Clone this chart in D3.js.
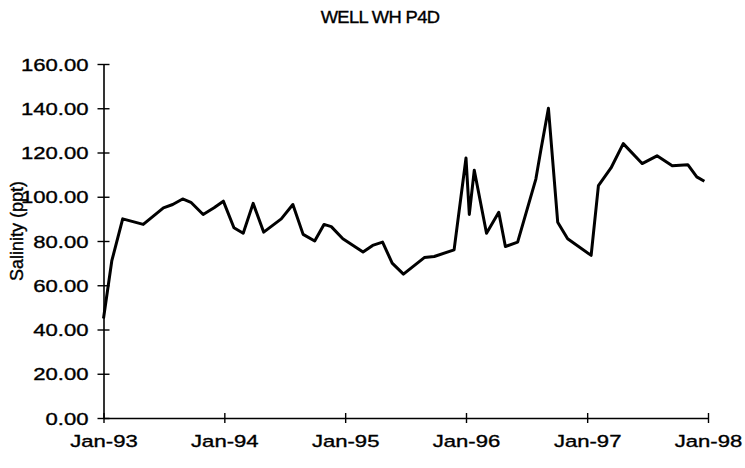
<!DOCTYPE html>
<html>
<head>
<meta charset="utf-8">
<script src="https://cdn.jsdelivr.net/npm/d3@7"></script>
<style>
  html, body { margin: 0; padding: 0; background: #fff; }
  svg { display: block; }
  text { font-family: "Liberation Sans", Arial, sans-serif; fill: #000; stroke: #000; stroke-width: 0.35px; }
</style>
</head>
<body>
<svg id="chart" width="745" height="468"></svg>
<script>
// Sampling dates for well WH P4D
const sampleDates = [
  "1993-01-01", "1993-01-26", "1993-02-28", "1993-05-01", "1993-07-01",
  "1993-07-29", "1993-08-28", "1993-09-22", "1993-10-29", "1993-12-01",
  "1993-12-29", "1994-01-30", "1994-02-27", "1994-03-29", "1994-04-30",
  "1994-06-22", "1994-07-27", "1994-08-27", "1994-10-01", "1994-10-29",
  "1994-11-20", "1994-12-25", "1995-02-24", "1995-03-25", "1995-04-24",
  "1995-05-23", "1995-06-26", "1995-08-28", "1995-09-27", "1995-11-26",
  "1996-01-01", "1996-01-11", "1996-01-26", "1996-03-03", "1996-04-09",
  "1996-04-29", "1996-06-05", "1996-07-30", "1996-08-14", "1996-09-06",
  "1996-10-04", "1996-11-03", "1997-01-13", "1997-02-04", "1997-03-14",
  "1997-04-20", "1997-06-16", "1997-07-31", "1997-09-15", "1997-11-01",
  "1997-11-28", "1997-12-21"
];

// Measured salinity (ppt) at each sampling date
const salinity = [
  45, 71, 90, 87.5, 95,
  96.5, 99, 97.5, 92, 95,
  98, 86, 83.5, 97, 84,
  90, 96.5, 83, 80, 87.5,
  86.5, 81, 75, 78, 79.5,
  70, 65, 72.5, 73, 76,
  117.5, 92, 112, 83.5, 93,
  77.5, 79.5, 108, 121, 140,
  88.5, 81, 73.5, 105, 113,
  124, 115, 118.5, 114, 114.5,
  109, 107
];

// Axis ticks
const yTicks = [0, 20, 40, 60, 80, 100, 120, 140, 160];
const xTickDates = ["1993-01-01", "1994-01-01", "1995-01-01", "1996-01-01", "1997-01-01", "1998-01-01"];

const chartTitle = "WELL WH P4D";
const yTitle = "Salinity (ppt)";

const parse = d3.timeParse("%Y-%m-%d");
const points = sampleDates.map((d, i) => ({ date: parse(d), value: salinity[i] }));

const svg = d3.select("#chart");
const margin = { left: 103.5, right: 37, top: 64, bottom: 50 };
const W = 745, H = 468;

const x = d3.scaleTime()
  .domain([parse(xTickDates[0]), parse(xTickDates[xTickDates.length - 1])])
  .range([margin.left, W - margin.right]);

const y = d3.scaleLinear()
  .domain([0, 160])
  .range([H - margin.bottom, margin.top]);

const sx = 1.3; // horizontal stretch of tick labels

// Y axis
const yAxis = svg.append("g")
  .attr("transform", `translate(${margin.left},0)`)
  .call(d3.axisLeft(y).tickValues(yTicks).tickFormat(d3.format(".2f")).tickSize(6).tickSizeOuter(0));
yAxis.select(".domain").attr("stroke", "#000").attr("stroke-width", 1.6);
yAxis.selectAll(".tick line").attr("x1", 6).attr("x2", -6).attr("stroke", "#000").attr("stroke-width", 1.4);
yAxis.selectAll(".tick text")
  .attr("x", -15 / sx)
  .attr("dy", "0.36em")
  .attr("transform", `scale(${sx},1)`)
  .style("font-size", "17px");

// X axis
const xAxis = svg.append("g")
  .attr("transform", `translate(0,${y(0)})`)
  .call(d3.axisBottom(x).tickValues(xTickDates.map(parse)).tickFormat(d3.timeFormat("%b-%y")).tickSize(5).tickSizeOuter(0));
xAxis.select(".domain").attr("stroke", "#000").attr("stroke-width", 1.6);
xAxis.selectAll(".tick line").attr("y1", -5).attr("y2", 5).attr("stroke", "#000").attr("stroke-width", 1.4);
xAxis.selectAll(".tick text")
  .attr("y", 29)
  .attr("dy", 0)
  .attr("transform", `scale(${sx},1)`)
  .style("font-size", "17px");

// Salinity line
const line = d3.line()
  .x(d => x(d.date))
  .y(d => y(d.value));

svg.append("path")
  .datum(points)
  .attr("fill", "none")
  .attr("stroke", "#000")
  .attr("stroke-width", 3)
  .attr("stroke-linejoin", "round")
  .attr("d", line);

// Title
svg.append("text")
  .attr("x", 380 / 1.08)
  .attr("y", 23)
  .attr("text-anchor", "middle")
  .attr("transform", "scale(1.08,1)")
  .style("font-size", "17px")
  .style("letter-spacing", "-0.6px")
  .text(chartTitle);

// Y axis title
svg.append("text")
  .attr("transform", "translate(23,231) rotate(-90)")
  .attr("text-anchor", "middle")
  .style("font-size", "18px")
  .text(yTitle);
</script>
</body>
</html>
